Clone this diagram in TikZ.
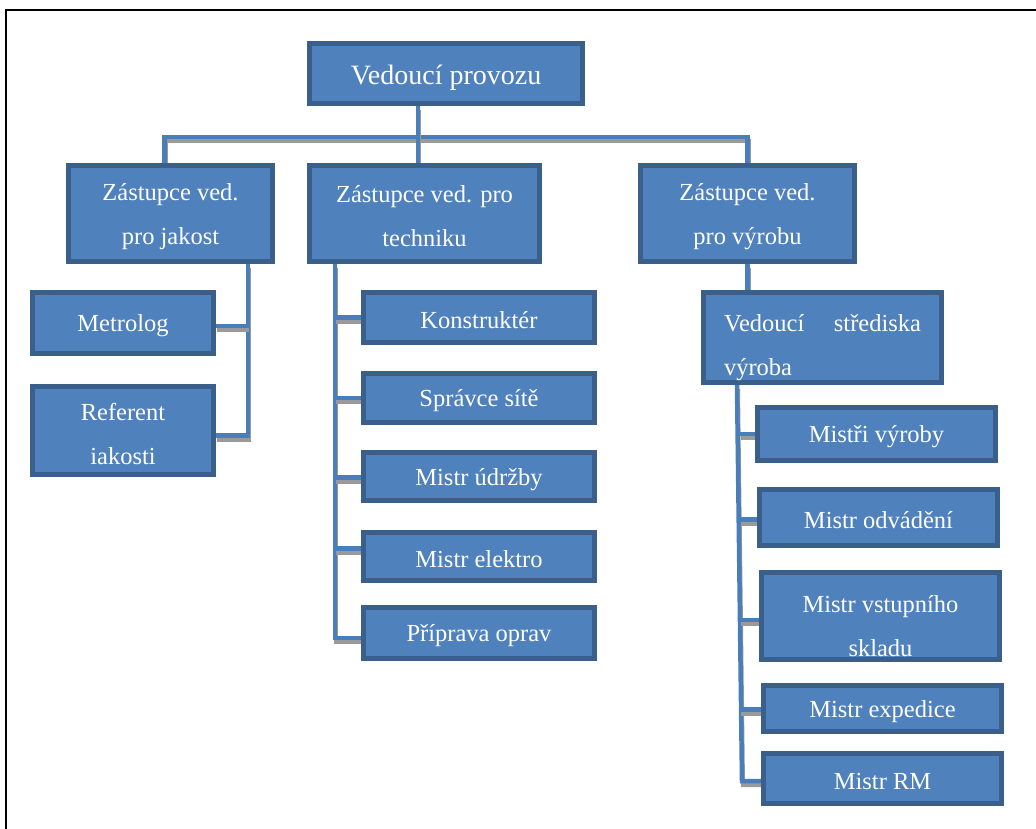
\documentclass[tikz,border=0pt]{standalone}
\usepackage{fontspec}
\setmainfont{Liberation Serif}
\definecolor{boxfill}{HTML}{4F81BD}
\definecolor{boxline}{HTML}{3A5F8B}
\definecolor{lineblue}{HTML}{4A7EBB}
\definecolor{shadowgray}{HTML}{9A9A9A}
\tikzset{
  obox/.style={draw=boxline, fill=boxfill, line width=5pt, inner sep=0pt},
  otext/.style={inner sep=0pt, text=white, align=center, font=\fontsize{24.5}{44}\selectfont},
  conn/.style={draw=lineblue, line width=4.5pt,
    preaction={draw=shadowgray, line width=4pt, transform canvas={shift={(1pt,-4pt)}}}},
  frameline/.style={draw=black, line width=2pt}
}
% \obox[text options]{name}{x1}{y1}{x2}{y2}{text}
\newcommand\obox[7][]{%
  \pgfmathsetmacro\bw{#5-#3-5}\pgfmathsetmacro\bh{#6-#4-5}%
  \node[obox, minimum width=\bw pt, minimum height=\bh pt] (#2) at ({(#3+#5)/2},{(#4+#6)/2}) {};
  \node[otext, yshift=-3pt, #1] (#2-t) at (#2) {#7};}
\pgfdeclarelayer{conns}
\pgfsetlayers{conns,main}
\begin{document}
\begin{tikzpicture}[x=1pt,y=-1pt]
\useasboundingbox (0,0) rectangle (1036,828);
\draw[frameline] (5.5,830) -- (5.5,9.5) -- (1040,9.5);
% coordinates for trunks
\coordinate (bus) at (418,137);
\coordinate (jx) at (248,0);
\coordinate (tx) at (335,0);
\coordinate (vx) at (740,0);
\coordinate (vt) at (737,383);
\coordinate (vb) at (742,781);
% boxes
\obox[font=\fontsize{28}{34}\selectfont, yshift=-1pt]{vp}{307}{41}{585}{106}{Vedoucí provozu}
\obox{z1}{66}{163}{275}{264}{Zástupce ved.\\pro jakost}
\obox{z2}{307}{163}{542}{264}{Zástupce ved. pro\\techniku}
\obox{z3}{638}{163}{857}{264}{Zástupce ved.\\pro výrobu}
\obox{met}{30}{290}{216}{356}{Metrolog}
\obox{ref}{30}{384}{216}{477}{Referent\\iakosti}
\obox{kon}{361}{290}{597}{345}{Konstruktér}
\obox{spr}{361}{371}{597}{425}{Správce sítě}
\obox{udr}{361}{450}{597}{503}{Mistr údržby}
\obox{ele}{361}{530}{597}{583}{Mistr elektro}
\obox{ppo}{361}{605}{597}{661}{Příprava oprav}
\obox[yshift=-7pt]{vs}{701}{290}{944}{385}{\makebox[197pt][s]{Vedoucí\hfill střediska}\\\makebox[197pt][l]{výroba}}
\obox{mvy}{755}{405}{998}{463}{Mistři výroby}
\obox{mod}{757}{487}{1000}{548}{Mistr odvádění}
\obox[yshift=-7pt]{mvs}{759}{570}{1002}{662}{Mistr vstupního\\skladu}
\obox{mex}{761}{683}{1004}{734}{Mistr expedice}
\obox{mrm}{761}{751}{1004}{806}{Mistr RM}
\begin{pgfonlayer}{conns}
% top level
\draw[conn] ([xshift=-6pt]z1.north) |- (bus) -| (z3.north);
\draw[conn] (vp.south -| bus) -- (z2.north -| bus);
% jakost
\draw[conn] (z1.south -| jx) |- ([yshift=-5pt]ref.east);
\draw[conn] ([yshift=-3pt]met.east) -- ([yshift=-3pt]met.east -| jx);
% technika
\draw[conn] (z2.south -| tx) |- ([yshift=-5pt]ppo.west);
\draw[conn] (tx |- kon.west) -- (kon.west);
\draw[conn] (tx |- spr.west) -- (spr.west);
\draw[conn] ([yshift=-1pt]tx |- udr.west) -- ([yshift=-1pt]udr.west);
\draw[conn] ([yshift=8pt]tx |- ele.west) -- ([yshift=8pt]ele.west);
% vyroba
\draw[conn] (z3.south) -- (z3.south |- vs.north);
\draw[conn] (vs.south -| vt) -- (vb) -- (vb -| mrm.west);
\draw[conn] (vx |- mvy.west) -- (mvy.west);
\draw[conn] ([yshift=-2pt]vx |- mod.west) -- ([yshift=-2pt]mod.west);
\draw[conn] ([yshift=-4pt]vx |- mvs.west) -- ([yshift=-4pt]mvs.west);
\draw[conn] ([yshift=-1pt]vx |- mex.west) -- ([yshift=-1pt]mex.west);
\end{pgfonlayer}
\end{tikzpicture}
\end{document}
